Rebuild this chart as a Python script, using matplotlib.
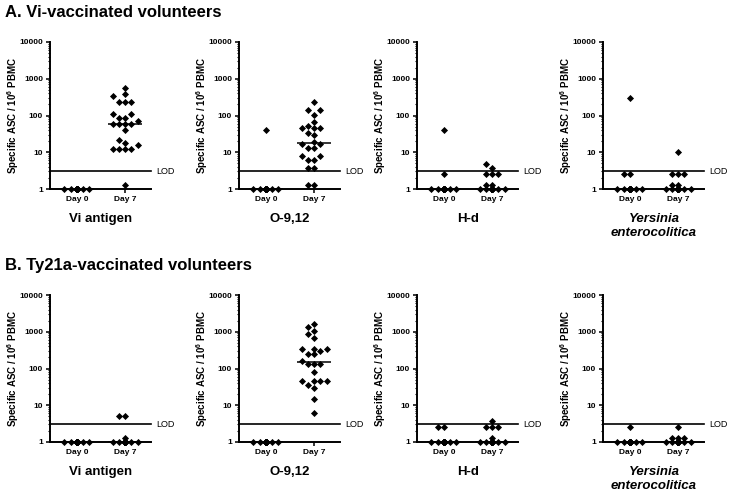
import matplotlib.pyplot as plt
import matplotlib.transforms as mtransforms
from matplotlib.ticker import LogLocator, NullFormatter, FixedLocator, FixedFormatter
import numpy as np

plt.rcParams['font.family'] = ['Liberation Sans', 'DejaVu Sans']
plt.rcParams['mathtext.fontset'] = 'custom'
plt.rcParams['mathtext.rm'] = 'Liberation Sans:bold'
plt.rcParams['mathtext.bf'] = 'Liberation Sans:bold'

days = ["Day 0", "Day 7"]
antigens = ["Vi antigen", "O-9,12", "H-d", "Yersinia\nenterocolitica"]
group_titles = ["A. Vi-vaccinated volunteers", "B. Ty21a-vaccinated volunteers"]
lod = 3

# specific ASC / 10^6 PBMC, values below LOD plotted at 1
# A. Vi-vaccinated volunteers
vi_vi_d0 = [1, 1, 1, 1, 1, 1, 1, 1, 1, 1, 1, 1, 1, 1, 1, 1, 1, 1, 1, 1, 1, 1, 1, 1]
vi_vi_d7 = [560, 385, 330, 240, 240, 240, 110, 110, 88, 88, 71, 60, 60, 60, 60, 40,
            21, 18, 15.5, 12, 12, 12, 12, 1.3]
vi_o_d0 = [40, 1, 1, 1, 1, 1, 1, 1, 1, 1, 1, 1, 1, 1, 1, 1, 1, 1, 1, 1, 1, 1, 1, 1]
vi_o_d7 = [240, 142, 142, 104, 68, 53, 45, 45, 45, 33, 30, 19.6, 16.6, 16.6, 12.9, 12.9,
           7.7, 7.7, 6.2, 6.2, 3.7, 3.7, 1.3, 1.3]
vi_h_d0 = [40, 2.5, 1, 1, 1, 1, 1, 1, 1, 1, 1, 1, 1, 1, 1, 1, 1, 1, 1, 1, 1, 1, 1, 1]
vi_h_d7 = [4.9, 3.8, 2.5, 2.5, 2.5, 1.3, 1.3, 1, 1, 1, 1, 1, 1, 1, 1, 1, 1, 1, 1, 1, 1, 1, 1, 1]
vi_y_d0 = [300, 2.5, 2.5, 1, 1, 1, 1, 1, 1, 1, 1, 1, 1, 1, 1, 1, 1, 1, 1, 1, 1, 1, 1, 1]
vi_y_d7 = [10, 2.5, 2.5, 2.5, 1.3, 1.3, 1, 1, 1, 1, 1, 1, 1, 1, 1, 1, 1, 1, 1, 1, 1, 1, 1, 1]

# B. Ty21a-vaccinated volunteers
ty_vi_d0 = [1, 1, 1, 1, 1, 1, 1, 1, 1, 1, 1, 1, 1, 1, 1, 1, 1, 1, 1, 1, 1, 1, 1, 1]
ty_vi_d7 = [5, 5, 1.3, 1, 1, 1, 1, 1, 1, 1, 1, 1, 1, 1, 1, 1, 1, 1, 1, 1, 1, 1, 1, 1]
ty_o_d0 = [1, 1, 1, 1, 1, 1, 1, 1, 1, 1, 1, 1, 1, 1, 1, 1, 1, 1, 1, 1, 1, 1, 1, 1]
ty_o_d7 = [1620, 1380, 1040, 880, 670, 330, 330, 330, 300, 250, 250, 160, 135, 135, 135,
           81, 45, 45, 45, 45, 35, 29, 15, 6.3]
ty_h_d0 = [2.5, 2.5, 1, 1, 1, 1, 1, 1, 1, 1, 1, 1, 1, 1, 1, 1, 1, 1, 1, 1, 1, 1, 1, 1]
ty_h_d7 = [3.8, 2.5, 2.5, 2.5, 1.3, 1, 1, 1, 1, 1, 1, 1, 1, 1, 1, 1, 1, 1, 1, 1, 1, 1, 1, 1]
ty_y_d0 = [2.5, 1, 1, 1, 1, 1, 1, 1, 1, 1, 1, 1, 1, 1, 1, 1, 1, 1, 1, 1, 1, 1, 1, 1]
ty_y_d7 = [2.5, 1.3, 1.3, 1.3, 1, 1, 1, 1, 1, 1, 1, 1, 1, 1, 1, 1, 1, 1, 1, 1, 1, 1, 1, 1]

panels = [
    [(vi_vi_d0, vi_vi_d7), (vi_o_d0, vi_o_d7), (vi_h_d0, vi_h_d7), (vi_y_d0, vi_y_d7)],
    [(ty_vi_d0, ty_vi_d7), (ty_o_d0, ty_o_d7), (ty_h_d0, ty_h_d7), (ty_y_d0, ty_y_d7)],
]


def swarm_offsets(values, px_x, px_y, step=0.13, size=5.5):
    # column scatter: put each point in the free slot nearest the centre
    values = np.asarray(values, dtype=float)
    logv = np.log10(values)
    offs = np.zeros(len(values))
    placed = []
    slots = [0, -1, 1, -2, 2]
    for i in np.argsort(values, kind="stable"):
        dists = []
        for k in slots:
            if placed:
                d = min(np.hypot((k * step - offs[j]) * px_x, (logv[i] - logv[j]) * px_y) for j in placed)
            else:
                d = np.inf
            dists.append(d)
        free = [k for k, d in zip(slots, dists) if d >= size]
        k = free[0] if free else slots[int(np.argmax(dists))]
        offs[i] = k * step
        placed.append(i)
    return offs


W, H = 735, 493
fig = plt.figure(figsize=(W / 100, H / 100), dpi=100)

lefts = [50, 239, 417, 603]
tops = [42, 295]
ax_w, ax_h = 101, 147
xlim = (-0.56, 1.54)

for row, top in enumerate(tops):
    fig.text(5 / W, 1 - (top - 25) / H, group_titles[row], fontsize=12, fontweight="bold", va="baseline")
    for col, left in enumerate(lefts):
        ax = fig.add_axes([left / W, 1 - (top + ax_h) / H, ax_w / W, ax_h / H])
        ax.set_yscale("log")
        ax.set_xlim(*xlim)
        ax.set_ylim(1, 10000)
        px_x = ax_w / (xlim[1] - xlim[0])
        px_y = ax_h / 4
        for i, vals in enumerate(panels[row][col]):
            offs = swarm_offsets(vals, px_x, px_y)
            ax.scatter(i + offs, vals, marker="D", s=13, color="black", linewidths=0,
                       zorder=3, clip_on=False)
            ax.hlines(np.median(vals), i - 0.35, i + 0.35, color="black", lw=1.1, zorder=3)
        ax.axhline(lod, color="black", lw=1.2, clip_on=False)
        trans = mtransforms.blended_transform_factory(ax.transAxes, ax.transData)
        ax.annotate("LOD", xy=(1, lod), xycoords=trans, xytext=(4, 0), textcoords="offset points",
                    va="center", ha="left", fontsize=6.5)

        for side in ["top", "right"]:
            ax.spines[side].set_visible(False)
        for side in ["left", "bottom"]:
            ax.spines[side].set_linewidth(1.4)

        ax.yaxis.set_major_locator(FixedLocator([1, 10, 100, 1000, 10000]))
        ax.yaxis.set_major_formatter(FixedFormatter(["1", "10", "100", "1000", "10000"]))
        ax.yaxis.set_minor_locator(LogLocator(base=10, subs=np.arange(2, 10)))
        ax.yaxis.set_minor_formatter(NullFormatter())
        ax.set_xticks([0, 1])
        ax.set_xticklabels(days)
        ax.tick_params(axis="both", which="major", direction="out", length=3, width=1.1,
                       labelsize=6, pad=2)
        ax.tick_params(axis="y", which="minor", direction="out", length=1.8, width=0.8)
        for lbl in ax.get_yticklabels() + ax.get_xticklabels():
            lbl.set_fontweight("bold")

        ax.set_ylabel(r"Specific ASC / 10$^{6}$ PBMC", fontsize=7, fontweight="bold")
        ax.yaxis.set_label_coords(-0.29, 0.5)

        name = antigens[col]
        style = "italic" if col == 3 else "normal"
        ax.annotate(name, xy=(0.5, 0), xycoords=mtransforms.blended_transform_factory(ax.transData, ax.transAxes),
                    xytext=(0, -17), textcoords="offset points", ha="center", va="top",
                    fontsize=9.5, fontweight="bold", fontstyle=style, linespacing=1.25)

fig.savefig("out.png", dpi=100)
